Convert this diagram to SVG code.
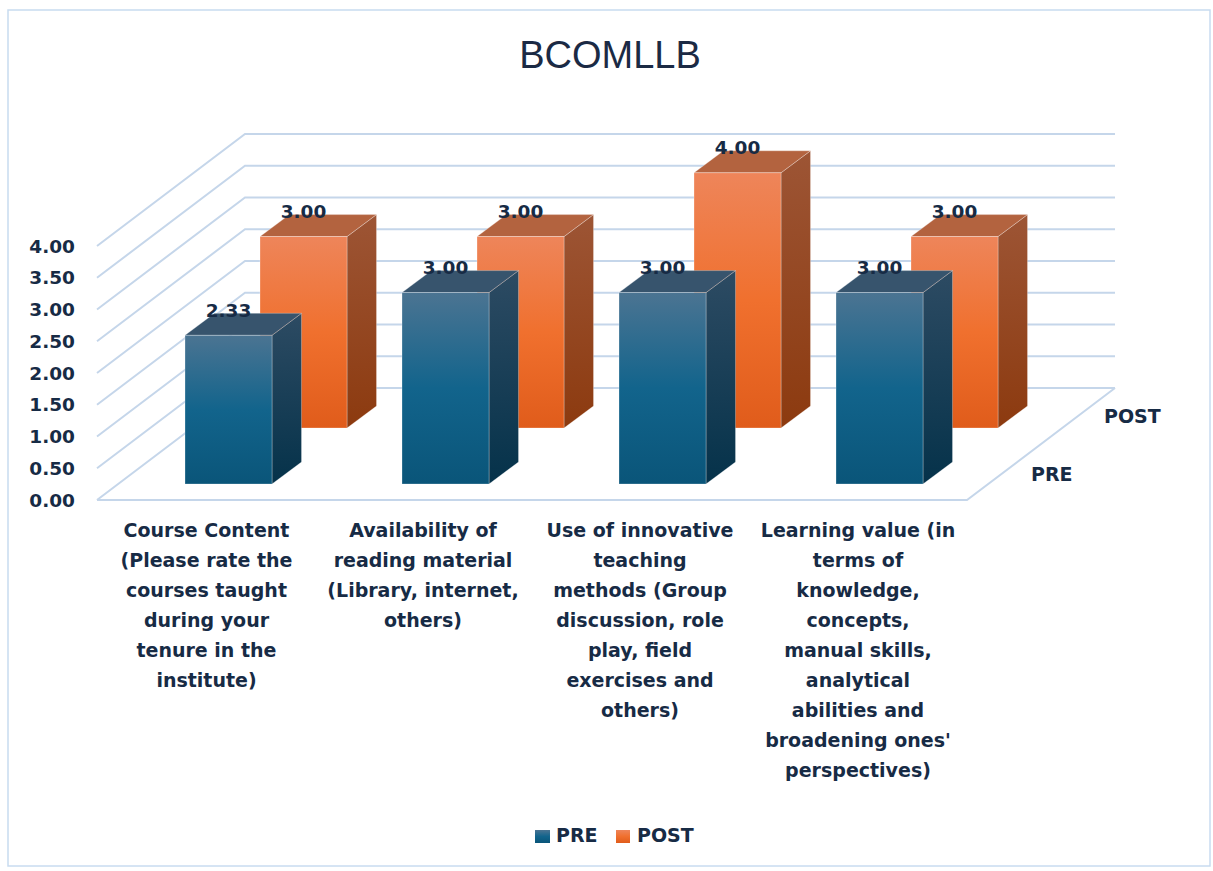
<svg xmlns="http://www.w3.org/2000/svg" width="1213" height="871" viewBox="0 0 1213 871">
<style>
.grid{stroke:#c5d6ea;stroke-width:2;fill:none}
.ax{font-family:"DejaVu Sans",sans-serif;font-weight:bold;font-size:18.5px;fill:#172b45;text-anchor:end}
.val{font-family:"DejaVu Sans",sans-serif;font-weight:bold;font-size:18.5px;fill:#172b45;text-anchor:middle}
.cat{font-family:"DejaVu Sans",sans-serif;font-weight:bold;font-size:19px;fill:#172b45;text-anchor:middle}
.lbl{font-family:"DejaVu Sans",sans-serif;font-weight:bold;font-size:19px;fill:#172b45}
.edge{stroke:#ffffff;stroke-opacity:0.35;stroke-width:0.8}
</style>
<defs>
<linearGradient id="preF" x1="0" y1="0" x2="0" y2="1"><stop offset="0" stop-color="#4b7492"/><stop offset="0.5" stop-color="#12648c"/><stop offset="1" stop-color="#0a5579"/></linearGradient>
<linearGradient id="preS" x1="0" y1="0" x2="0" y2="1"><stop offset="0" stop-color="#2d4b63"/><stop offset="1" stop-color="#05324a"/></linearGradient>
<linearGradient id="postF" x1="0" y1="0" x2="0" y2="1"><stop offset="0" stop-color="#ee855a"/><stop offset="0.5" stop-color="#f0702e"/><stop offset="1" stop-color="#e05c1b"/></linearGradient>
<linearGradient id="postS" x1="0" y1="0" x2="0" y2="1"><stop offset="0" stop-color="#9d5535"/><stop offset="1" stop-color="#8c3a0f"/></linearGradient>
</defs>
<rect x="0" y="0" width="1213" height="871" fill="#ffffff"/>
<rect x="8" y="10" width="1202" height="856" fill="#ffffff" stroke="#c8dbf0" stroke-width="1.5"/>
<text x="610" y="68" font-family="Liberation Sans, sans-serif" font-size="38" fill="#1b2a44" text-anchor="middle">BCOMLLB</text>

<g id="walls">
<g class="grid">
<path d="M97,500 L245,388 L1115,388"/>
<path d="M97,468.25 L245,356.25 L1115,356.25"/>
<path d="M97,436.5 L245,324.5 L1115,324.5"/>
<path d="M97,404.75 L245,292.75 L1115,292.75"/>
<path d="M97,373 L245,261 L1115,261"/>
<path d="M97,341.25 L245,229.25 L1115,229.25"/>
<path d="M97,309.5 L245,197.5 L1115,197.5"/>
<path d="M97,277.75 L245,165.75 L1115,165.75"/>
<path d="M97,246 L245,134 L1115,134"/>
<path d="M97,500 L967,500 L1115,388"/>
</g>
</g>

<g id="axis-labels">
<text class="ax" x="75" y="506.7">0.00</text>
<text class="ax" x="75" y="474.9">0.50</text>
<text class="ax" x="75" y="443.2">1.00</text>
<text class="ax" x="75" y="411.4">1.50</text>
<text class="ax" x="75" y="379.7">2.00</text>
<text class="ax" x="75" y="347.9">2.50</text>
<text class="ax" x="75" y="316.2">3.00</text>
<text class="ax" x="75" y="284.4">3.50</text>
<text class="ax" x="75" y="252.7">4.00</text>
</g>

<g id="post-bars">
<g id="post1">
<polygon points="347,236.6 376.5,214.6 376.5,406 347,428" fill="url(#postS)" class="edge"/>
<polygon points="260,236.6 289.5,214.6 376.5,214.6 347,236.6" fill="#b3633f" class="edge"/>
<rect x="260" y="236.6" width="87" height="191.4" fill="url(#postF)" class="edge"/>
</g>
<g id="post2">
<polygon points="564,236.6 593.5,214.6 593.5,406 564,428" fill="url(#postS)" class="edge"/>
<polygon points="477,236.6 506.5,214.6 593.5,214.6 564,236.6" fill="#b3633f" class="edge"/>
<rect x="477" y="236.6" width="87" height="191.4" fill="url(#postF)" class="edge"/>
</g>
<g id="post3">
<polygon points="781,172.8 810.5,150.8 810.5,406 781,428" fill="url(#postS)" class="edge"/>
<polygon points="694,172.8 723.5,150.8 810.5,150.8 781,172.8" fill="#b3633f" class="edge"/>
<rect x="694" y="172.8" width="87" height="255.2" fill="url(#postF)" class="edge"/>
</g>
<g id="post4">
<polygon points="998,236.6 1027.5,214.6 1027.5,406 998,428" fill="url(#postS)" class="edge"/>
<polygon points="911,236.6 940.5,214.6 1027.5,214.6 998,236.6" fill="#b3633f" class="edge"/>
<rect x="911" y="236.6" width="87" height="191.4" fill="url(#postF)" class="edge"/>
</g>
</g>

<g id="pre-bars">
<g id="pre1">
<polygon points="272,335.3 301.5,313.3 301.5,462 272,484" fill="url(#preS)" class="edge"/>
<polygon points="185,335.3 214.5,313.3 301.5,313.3 272,335.3" fill="#37546d" class="edge"/>
<rect x="185" y="335.3" width="87" height="148.7" fill="url(#preF)" class="edge"/>
</g>
<g id="pre2">
<polygon points="489,292.6 518.5,270.6 518.5,462 489,484" fill="url(#preS)" class="edge"/>
<polygon points="402,292.6 431.5,270.6 518.5,270.6 489,292.6" fill="#37546d" class="edge"/>
<rect x="402" y="292.6" width="87" height="191.4" fill="url(#preF)" class="edge"/>
</g>
<g id="pre3">
<polygon points="706,292.6 735.5,270.6 735.5,462 706,484" fill="url(#preS)" class="edge"/>
<polygon points="619,292.6 648.5,270.6 735.5,270.6 706,292.6" fill="#37546d" class="edge"/>
<rect x="619" y="292.6" width="87" height="191.4" fill="url(#preF)" class="edge"/>
</g>
<g id="pre4">
<polygon points="923,292.6 952.5,270.6 952.5,462 923,484" fill="url(#preS)" class="edge"/>
<polygon points="836,292.6 865.5,270.6 952.5,270.6 923,292.6" fill="#37546d" class="edge"/>
<rect x="836" y="292.6" width="87" height="191.4" fill="url(#preF)" class="edge"/>
</g>
</g>

<g id="value-labels">
<text class="val" x="303.5" y="218">3.00</text>
<text class="val" x="520.5" y="218">3.00</text>
<text class="val" x="737.5" y="154.2">4.00</text>
<text class="val" x="954.5" y="218">3.00</text>
<text class="val" x="228.5" y="316.8">2.33</text>
<text class="val" x="445.5" y="274.1">3.00</text>
<text class="val" x="662.5" y="274.1">3.00</text>
<text class="val" x="879.5" y="274.1">3.00</text>
</g>

<g id="series-labels">
<text class="lbl" x="1104" y="423">POST</text>
<text class="lbl" x="1031" y="481">PRE</text>
</g>

<g id="cat1">
<text class="cat" x="206.5" y="537">Course Content</text>
<text class="cat" x="206.5" y="567">(Please rate the</text>
<text class="cat" x="206.5" y="597">courses taught</text>
<text class="cat" x="206.5" y="627">during your</text>
<text class="cat" x="206.5" y="657">tenure in the</text>
<text class="cat" x="206.5" y="687">institute)</text>
</g>
<g id="cat2">
<text class="cat" x="423" y="537">Availability of</text>
<text class="cat" x="423" y="567">reading material</text>
<text class="cat" x="423" y="597">(Library, internet,</text>
<text class="cat" x="423" y="627">others)</text>
</g>
<g id="cat3">
<text class="cat" x="640" y="537">Use of innovative</text>
<text class="cat" x="640" y="567">teaching</text>
<text class="cat" x="640" y="597">methods (Group</text>
<text class="cat" x="640" y="627">discussion, role</text>
<text class="cat" x="640" y="657">play, field</text>
<text class="cat" x="640" y="687">exercises and</text>
<text class="cat" x="640" y="717">others)</text>
</g>
<g id="cat4">
<text class="cat" x="858" y="537">Learning value (in</text>
<text class="cat" x="858" y="567">terms of</text>
<text class="cat" x="858" y="597">knowledge,</text>
<text class="cat" x="858" y="627">concepts,</text>
<text class="cat" x="858" y="657">manual skills,</text>
<text class="cat" x="858" y="687">analytical</text>
<text class="cat" x="858" y="717">abilities and</text>
<text class="cat" x="858" y="747">broadening ones'</text>
<text class="cat" x="858" y="777">perspectives)</text>
</g>

<g id="legend">
<rect x="535" y="830" width="15" height="13" fill="url(#preF)"/>
<text class="lbl" x="556" y="842">PRE</text>
<rect x="616" y="830" width="14" height="13" fill="url(#postF)"/>
<text class="lbl" x="637" y="842">POST</text>
</g>
</svg>
